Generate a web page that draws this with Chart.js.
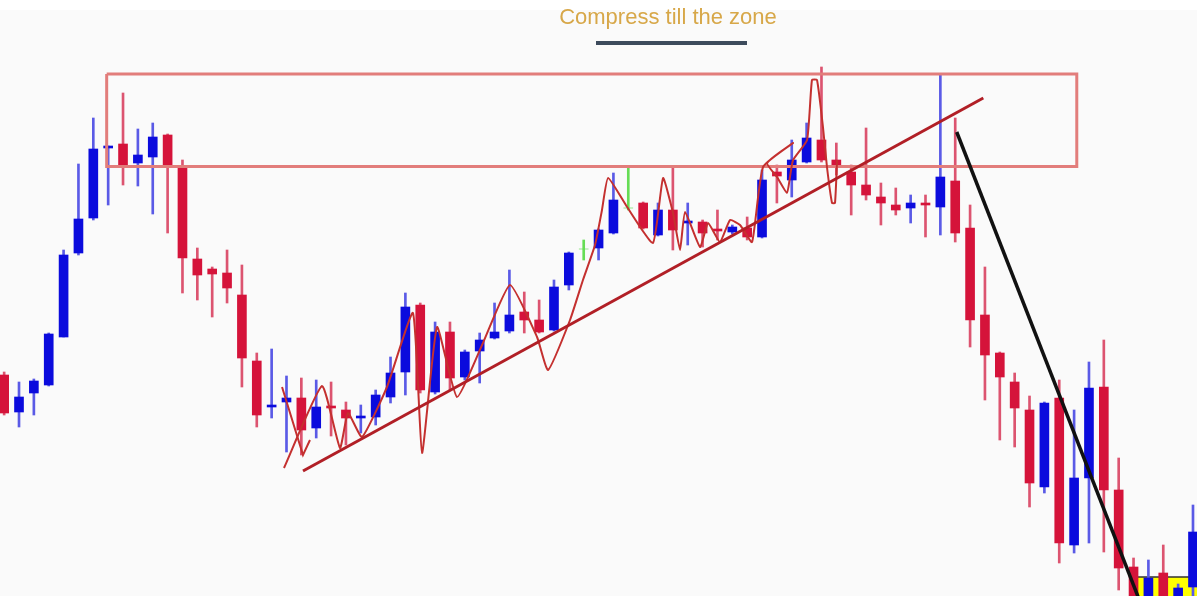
<!DOCTYPE html>
<html>
<head>
<meta charset="utf-8">
<script src="https://cdn.jsdelivr.net/npm/chart.js@4.4.1/dist/chart.umd.min.js"></script>
<style>
html,body{margin:0;padding:0;background:#fafafa;overflow:hidden;}
#wrap{position:relative;width:1197px;height:596px;}
#chart{position:absolute;left:0;top:0;}
#title{position:absolute;left:418px;top:4px;width:500px;text-align:center;font-family:"Liberation Sans",Arial,sans-serif;font-size:22px;line-height:25px;color:#d7a748;}
#bar{position:absolute;left:596px;top:41px;width:151px;height:4px;background:#3d4b5c;}
</style>
</head>
<body>
<div id="wrap">
<canvas id="chart" width="1197" height="596"></canvas>
<div id="title">Compress till the zone</div>
<div id="bar"></div>
</div>
<script>
// ---- candle data (price units) ----
const opens = [225,188,207,215,263,347,382,452,456,437,
443,465,433,341,331,327,305,239,193,198,
202,172,194,190,182,183,203,228,295,208,
268,223,249,262,269,288,280,270,315,351,
352,367,392,397,365,390,377,378,371,368,
372,363,428,420,438,460,440,428,415,403,
395,392,397,393,419,372,285,247,218,190,
113,202,55,122,213,110,33,0,27,4,
13];
const highs = [228,218,221,267,350,436,482,454,507,471,
477,466,440,352,333,350,335,247,251,224,
222,220,218,198,195,210,243,307,297,278,
278,250,267,297,330,308,300,320,348,360,
371,427,433,398,397,433,397,380,390,375,
383,430,435,460,477,533,457,435,472,417,
412,405,405,525,482,395,333,248,227,204,
198,220,190,238,260,142,42,40,55,16,
95];
const lows = [185,173,185,214,263,345,380,395,415,414,
386,367,307,300,283,297,213,173,182,148,
145,162,164,155,167,175,197,205,207,206,
210,220,217,261,267,267,267,269,310,340,
340,366,390,371,364,350,355,353,360,366,
360,362,397,403,437,438,425,385,400,375,
385,377,363,365,358,253,200,160,153,93,
107,37,47,57,48,10,0,0,0,0,
4];
const closes = [187,203,219,266,345,381,451,454,435,445,
463,435,342,325,326,312,242,185,195,202,
170,193,192,182,184,205,227,293,210,268,
222,248,260,268,285,280,268,313,347,351,
370,400,392,372,390,370,379,367,369,373,
363,420,424,440,462,440,434,415,405,397,
390,397,395,423,367,280,245,223,192,117,
197,57,122,212,110,32,0,22,0,12,
68];

// ---- annotations (x in candle index, y in price units) ----
const zoneX = [6.90, 72.18];
const zoneY = [433.5, 526];
const trendX = [20.11, 65.89];
const trendY = [129, 502];
const breakX = [64.10, 76.39];
const breakY = [468, 0];
const yellowX = [75.9, 80.6];
const yellowY = [0, 23];
const zigX = [18.83,21.39,22.60,23.14,24.08,25.76,27.51,28.12,29.13,30.47,32.22,34.04,35.86,36.60,38.08,38.95,39.76,40.23,40.64,41.92,43.66,44.34,45.01,45.48,45.82,46.83,47.37,48.17,48.85,49.52,50.33,51.07,53.09,51.34,52.01,52.68,52.88,53.09,54.03,54.36,54.70,55.10,55.37,55.71,55.91,56.05];
const zigY = [132,214,152,187,163,213,287,147,273,203,257,315,263,230,280,320,355,390,422,393,357,422,387,350,388,353,377,358,380,375,358,433,457,437,423,407,423,440,460,520,520,473,433,397,397,440];
const zig2X = [18.70, 20.11, 20.58];
const zig2Y = [213, 145, 160];

const RED = '#d5133a', BLUE = '#0b0bdd', GREEN = '#66dd55';
const RED_W = '#dc5470', BLUE_W = '#5a5ae6';

const bodyColor = opens.map((o,i)=> closes[i]>o ? BLUE : (closes[i]<o ? RED : GREEN));
const wickColor = opens.map((o,i)=> closes[i]>o ? BLUE_W : (closes[i]<o ? RED_W : GREEN));

const wickData = opens.map((o,i)=>({x:i, y:[lows[i], highs[i]]}));
const bodyData = opens.map((o,i)=>({x:i, y:[o, closes[i]]}));
const pts = (xs, ys) => xs.map((x,i)=>({x:x, y:ys[i]}));
const rectPts = [
  {x:zoneX[0], y:zoneY[1]}, {x:zoneX[1], y:zoneY[1]},
  {x:zoneX[1], y:zoneY[0]}, {x:zoneX[0], y:zoneY[0]},
  {x:zoneX[0], y:zoneY[1]}
];

const bgPlugin = {
  id: 'bg',
  beforeDraw(chart){
    const {ctx, width, height} = chart;
    ctx.save();
    ctx.fillStyle = '#fafafa';
    ctx.fillRect(0,0,width,height);
    ctx.fillStyle = '#ffffff';
    ctx.fillRect(0,0,width,10);
    ctx.restore();
  },
  beforeDatasetsDraw(chart){
    const {ctx} = chart;
    const xs = chart.scales.x, ys = chart.scales.y;
    const l = xs.getPixelForValue(yellowX[0]), r = xs.getPixelForValue(yellowX[1]);
    const t = ys.getPixelForValue(yellowY[1]), b = ys.getPixelForValue(yellowY[0]);
    ctx.save();
    ctx.fillStyle = '#ffff00';
    ctx.fillRect(l, t, r-l, b-t);
    ctx.strokeStyle = '#333';
    ctx.lineWidth = 1.5;
    ctx.beginPath();
    ctx.moveTo(l, b); ctx.lineTo(l, t); ctx.lineTo(r, t);
    ctx.stroke();
    ctx.restore();
  }
};

new Chart(document.getElementById('chart'), {
  type: 'bar',
  data: {
    datasets: [
      {type:'bar', label:'wick', data: wickData, backgroundColor: wickColor, barThickness: 2, grouped:false, order: 5},
      {type:'bar', label:'body', data: bodyData, backgroundColor: bodyColor, barThickness: 9, grouped:false, order: 4},
      {type:'line', label:'zone', data: rectPts, borderColor:'#e27d7b', borderWidth:3, pointRadius:0, fill:false, tension:0, borderJoinStyle:'miter', order: 3},
      {type:'line', label:'zig', data: pts(zigX, zigY), borderColor:'#c4302f', borderWidth:2, pointRadius:0, fill:false, tension:0.15, order: 2},
      {type:'line', label:'zig2', data: pts(zig2X, zig2Y), borderColor:'#c4302f', borderWidth:2, pointRadius:0, fill:false, tension:0, order: 2},
      {type:'line', label:'trend', data: pts(trendX, trendY), borderColor:'#b11f26', borderWidth:3, pointRadius:0, fill:false, order: 1},
      {type:'line', label:'break', data: pts(breakX, breakY), borderColor:'#111111', borderWidth:3.5, pointRadius:0, fill:false, order: 1}
    ]
  },
  options: {
    responsive: false,
    animation: false,
    devicePixelRatio: 1,
    layout: {padding: 0},
    plugins: {legend:{display:false}, tooltip:{enabled:false}, title:{display:false}},
    scales: {
      x: {type:'linear', min:-0.279, max:80.27, display:false, offset:false},
      y: {type:'linear', min:4, max:600, display:false}
    }
  },
  plugins: [bgPlugin]
});
</script>
</body>
</html>
